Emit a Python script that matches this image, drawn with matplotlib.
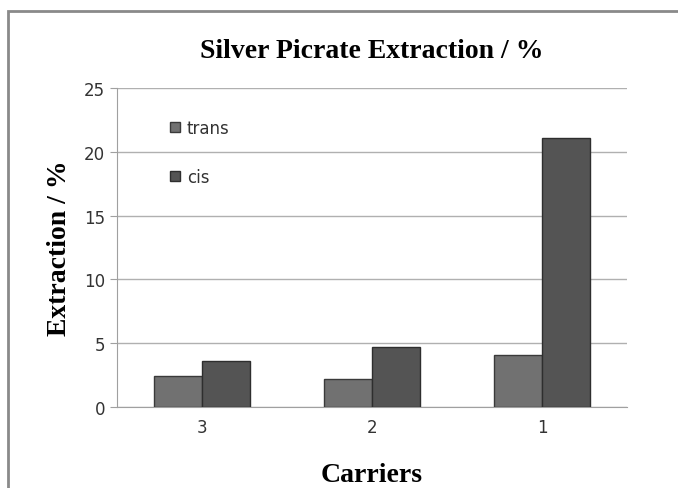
import numpy as np
import matplotlib
matplotlib.use("Agg")
import matplotlib.pyplot as plt
from matplotlib.patches import Rectangle

categories = ["3", "2", "1"]
trans = [2.4, 2.2, 4.1]
cis = [3.6, 4.7, 21.1]

fig = plt.figure(figsize=(6.78, 4.89), dpi=100)
ax = fig.add_axes([117/678, 1-408/489, 510/678, 319/489])

x = np.arange(len(categories))
w = 0.283
ax.bar(x - w/2, trans, w, color="#717171", edgecolor="#3a3a3a", linewidth=1, label="trans", zorder=3)
ax.bar(x + w/2, cis, w, color="#545454", edgecolor="#2e2e2e", linewidth=1, label="cis", zorder=3)

ax.set_xlim(-0.5, 2.5)
ax.set_ylim(0, 25)
ax.set_yticks([0, 5, 10, 15, 20, 25])
ax.set_xticks(x)
ax.set_xticklabels(categories)
ax.grid(axis="y", color="#b0b0b0", linewidth=1, zorder=0)
for s in ["top", "right"]:
    ax.spines[s].set_visible(False)
for s in ["left", "bottom"]:
    ax.spines[s].set_color("#a0a0a0")
ax.tick_params(axis="both", colors="#a0a0a0", labelcolor="#333333", labelsize=12, length=5)
ax.tick_params(axis="x", length=0, pad=8)

ax.set_title("Silver Picrate Extraction / %", family="Liberation Serif", fontweight="bold",
             fontsize=20, pad=22)
ax.set_ylabel("Extraction / %", family="Liberation Serif", fontweight="bold", fontsize=20, labelpad=9)
ax.set_xlabel("Carriers", family="Liberation Serif", fontweight="bold", fontsize=20, labelpad=19)

ax.legend(loc="upper left", bbox_to_anchor=(0.075, 0.95), frameon=False, fontsize=12,
          handlelength=0.6, handleheight=0.6, handletextpad=0.4, labelspacing=1.85,
          labelcolor="#333333")

fig.patches.append(Rectangle((8/678, -0.1), 1.2, 1.1 - 12/489, transform=fig.transFigure,
                             fill=False, edgecolor="#8a8a8a", linewidth=2))

fig.savefig("out.png", dpi=100)
